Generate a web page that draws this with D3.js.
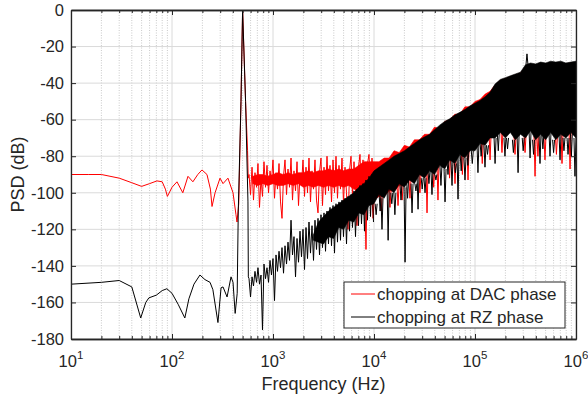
<!DOCTYPE html>
<html>
<head>
<meta charset="utf-8">
<script src="https://d3js.org/d3.v7.min.js"></script>
<style>
  body { margin: 0; background: #fff; }
  svg text { font-family: "Liberation Sans", Arial, sans-serif; fill: #262626; }
</style>
</head>
<body>
<svg width="588" height="400"></svg>
<script>
// ---- values (Hz, dB) ----
var redLow = [[10,-90],[15,-90],[20,-90],[30,-92],[40,-94.5],[50,-96.5],[60,-95],[71,-93.5],[80,-94],
  [86,-98],[90,-102],[100,-97],[112,-94],[128,-100],[144,-91],[161,-94],[180,-90],[198,-87.5],[222,-90],
  [240,-98],[249,-107.5],[267,-100],[299,-92],[320,-95],[358,-92],[402,-100],[430,-112],[440,-116],
  [458,-106],[482,-50],[500,0],[535,-50],[560,-77],[568,-92]];

var blackLow = [[10,-150],[20,-149],[30,-148],[40,-151.5],[49,-168.5],[55,-160],[59,-157.5],[70,-156],
  [80,-153.5],[89,-152.5],[100,-155],[115,-161],[134,-168.5],[147,-158],[165,-150],[189,-145],[212,-147.5],
  [238,-149],[254,-153],[285,-171],[306,-152],[320,-151.5],[351,-157],[384,-146],[402,-149],[422,-166],
  [442,-155],[453,-110],[482,-50],[500,0],[535,-50],[565,-105],[570,-146]];

// noisy stretch above the tone, one frequency list shared by both traces
var noiseF = [579,599,620,641,663,687,710,735,761,787,814,843,872,903,934,966,1000,1035,1071,1108,
  1147,1187,1228,1271,1315,1361,1408,1457,1508,1560,1614,1671,1729,1789,1851,1915,1982,2051,2122,2196,
  2272,2351,2433,2518,2605,2696,2790,2887,2987,3091,3199,3311,3425,3544,3668,3795,3927,4064,4205,4351,
  4502,4659,4822,4989,5163,5343,5528,5720,5920,6125,6339,6559,6787,7023,7267,7520,7782,8054,8332,8622,
  8923,9233,9555,9886];

var redNoise = [-90,-101,-86,-104,-89,-97,-84,-108,-92,-102,-83,-97,-85,-100,-88,-94,-82,-103,-89,-98,
  -84,-105,-114,-91,-82,-101,-87,-97,-81,-104,-88,-99,-83,-107,-90,-96,-82,-102,-86,-100,
  -81,-105,-88,-98,-82,-104,-111,-89,-81,-107,-86,-101,-80,-99,-85,-105,-82,-100,-80,-103,
  -85,-98,-81,-106,-86,-100,-120,-88,-80,-102,-83,-98,-118,-86,-79,-101,-82,-99,-131,-84,
  -79,-100,-81,-97];

var blackNoise = [-147,-157,-146,-151,-143,-149,-141,-150,-145,-175,-139,-147,-141,-149,-137,-145,-136,-159,-134,-143,
  -132,-141,-130,-144,-129,-139,-127,-137,-115,-134,-124,-146,-125,-138,-121,-135,-120,-142,-119,-136,
  -116,-133,-118,-137,-115,-131,-114,-134,-112,-130,-111,-132,-110,-128,-108,-129,-107,-133,-106,-127,
  -105,-126,-104,-124,-103,-128,-102,-121,-101,-119,-99,-124,-98,-118,-96,-117,-95,-121,-93,-115,
  -91,-113,-90,-116];

// dense region: upper and lower edges of the band
var bandF = [631,708,794,891,1000,1120,1260,1410,1580,1780,2000,2240,
  2510,2820,3160,3550,3980,4470,5010,5620,6310,7080,7940,8910,
  10000,11200,12600,14100,15800,17800,20000,22400,25100,28200,31600,35500,39800,44700,50100,56200,63100,70800,79400,89100,
  100000,112000,126000,141000,158000,178000,200000,224000,251000,282000,316000,355000,398000,447000,501000,562000,631000,708000,794000,891000,
  1000000];

var blackHi = [null,null,null,null,null,null,null,null,null,null,null,null,
  -123,-116,-113,-110,-108,-106,-104,-102,-100,-97,-95,-92,
  -88,-86,-84,-82,-80,-78.5,-77,-75,-73,-71,-69.5,-68,-65.5,-63,-61,-59.5,-57.5,-56,-54.5,-52.5,
  -51,-49.5,-47.5,-45,-40.5,-38,-37,-36,-35,-34,-30,-29,-29.5,-28.5,-29,-28,-28.5,-28,-29,-28.5,
  -28];
var blackLo = [null,null,null,null,null,null,null,null,null,null,null,null,
  -126,-127,-128,-124,-125,-119,-120,-115,-116,-111,-112,-107,
  -106,-101,-103,-98,-100,-95,-97,-93,-95,-90,-92,-88,-90,-85,-87,-82,-84,-79,-81,-77,
  -77,-73,-74,-70,-70,-67,-70,-67,-71,-68,-70,-66,-71,-68,-71,-67,-71,-68,-70,-67,
  -70];
var redHi = [-91,-90,-90,-91,-90,-89,-90,-89,-90,-89,-89,-88,
  -89,-88,-88,-87,-88,-87,-88,-87,-87,-85,-83,-83,
  -83,-83,-81,-81,-77,-78,-74,-75,-71,-71,-68,-68,-64,-65,-61,-60,-57,-57,-53,-53,
  -50,-49,-46,-44.5,-41,-38.5,-37.5,-36.5,-35.5,-34.5,-31,-30,-30,-29.5,-29.5,-29,-29,-29,-29.5,-29,
  -29];
var redLo = [-95,-96,-95,-96,-95,-96,-96,-95,-96,-95,-97,-96,
  -97,-96,-97,-96,-97,-96,-97,-96,-98,-99,-101,-99,
  -104,-102,-102,-99,-99,-96,-96,-93,-93,-90,-90,-87,-87,-84,-84,-81,-81,-78,-78,-76,
  -75,-72,-72,-68,-68,-66,-68,-66,-69,-67,-68,-65,-69,-67,-69,-66,-69,-67,-68,-66,
  -68];

// single deep (or tall) spikes poking out of the band
var blackSpikes = [[10500,-112],[11500,-110],[12000,-120],[13800,-126],[15000,-106],[16100,-112],[18500,-104],
  [20300,-138],[21500,-103],[23800,-111],[26000,-99],[27300,-109],[30000,-98],[32000,-100],[35000,-95],
  [37500,-101],[41000,-93],[46000,-96],[50500,-105],[54000,-90],[59200,-96],[64000,-89],[67900,-103.5],
  [73000,-88],[79600,-93],[85000,-85],[94000,-84],[107000,-89],[115000,-80],[125600,-86],[133000,-79],
  [158000,-84],[170000,-77],[198000,-80],[210000,-76],[240000,-78],[267000,-89],[300000,-77],[327000,-24],
  [351000,-81],[380000,-79],[440000,-84],[470000,-76],[553000,-80],[600000,-78],[695000,-82],[760000,-77],
  [834000,-79],[900000,-80],[977000,-91]];
var redSpikes = [[9800,-114],[11800,-110],[14400,-108],[17300,-107],[19000,-104],[22700,-103],[28500,-100],
  [33500,-111],[39000,-97],[43000,-104],[56000,-92],[63400,-95],[75000,-90],[85300,-93],[118000,-84],
  [141000,-82],[185000,-78],[249000,-79],[313000,-78],[393000,-91],[420000,-80],[493000,-82],[640000,-79],
  [727000,-84],[873000,-87]];

var xTicks = [10, 100, 1000, 10000, 100000, 1000000];
var yTicks = [-180, -160, -140, -120, -100, -80, -60, -40, -20, 0];
var legendLabels = ["chopping at DAC phase", "chopping at RZ phase"];
var colors = ["#ff0000", "#000000"];

// ---- layout ----
var svg = d3.select("svg");
var L = 71, R = 576, T = 10, B = 339;
var x = d3.scaleLog().domain([10, 1e6]).range([L, R]);
var y = d3.scaleLinear().domain([-180, 0]).range([B, T]);

var minor = [];
xTicks.slice(0, -1).forEach(function(d){
    for (var k = 2; k < 10; k++) minor.push(d * k);
});

svg.append("defs").append("clipPath").attr("id", "clip")
    .append("rect").attr("x", L).attr("y", T).attr("width", R - L).attr("height", B - T);

// grid
var grid = svg.append("g");
grid.selectAll("line.minor").data(minor).enter().append("line")
    .attr("x1", function(d){ return x(d); }).attr("x2", function(d){ return x(d); })
    .attr("y1", T).attr("y2", B)
    .attr("stroke", "#bdbdbd").attr("stroke-width", 0.8).attr("stroke-dasharray", "1,1.5");
grid.selectAll("line.mx").data(xTicks).enter().append("line")
    .attr("x1", function(d){ return x(d); }).attr("x2", function(d){ return x(d); })
    .attr("y1", T).attr("y2", B)
    .attr("stroke", "#dadada").attr("stroke-width", 1);
grid.selectAll("line.my").data(yTicks).enter().append("line")
    .attr("x1", L).attr("x2", R)
    .attr("y1", function(d){ return y(d); }).attr("y2", function(d){ return y(d); })
    .attr("stroke", "#dadada").attr("stroke-width", 1);

// data
var plot = svg.append("g").attr("clip-path", "url(#clip)");
var line = d3.line()
    .defined(function(d){ return d[1] != null; })
    .x(function(d){ return x(d[0]); })
    .y(function(d){ return y(d[1]); });
var area = d3.area()
    .defined(function(d){ return d[1] != null; })
    .x(function(d){ return x(d[0]); })
    .y0(function(d){ return y(d[1]); })
    .y1(function(d){ return y(d[2]); });

function band(hi, lo){
    return bandF.map(function(f, i){ return [f, hi[i], lo[i]]; });
}

function drawSpikes(list, hi, lo, color){
    plot.selectAll(null).data(list).enter().append("path")
        .attr("d", function(d){
            var i = d3.minIndex(bandF, function(b){ return Math.abs(Math.log(b / d[0])); });
            var base = d[1] < lo[i] ? lo[i] : hi[i];
            var xp = x(d[0]);
            return "M" + (xp - 1) + "," + y(base) + "L" + xp + "," + y(d[1]) + "L" + (xp + 1) + "," + y(base);
        })
        .attr("fill", "none").attr("stroke", color).attr("stroke-width", 1);
}

function drawSeries(low, noise, hi, lo, spikes, color){
    plot.append("path").datum(band(hi, lo))
        .attr("d", area).attr("fill", color).attr("stroke", color).attr("stroke-width", 0.6);
    drawSpikes(spikes, hi, lo, color);
    var pts = low.concat(noiseF.map(function(f, i){ return [f, noise[i]]; }));
    plot.append("path").datum(pts)
        .attr("d", line).attr("fill", "none").attr("stroke", color).attr("stroke-width", 1);
}

drawSeries(redLow, redNoise, redHi, redLo, redSpikes, colors[0]);
drawSeries(blackLow, blackNoise, blackHi, blackLo, blackSpikes, colors[1]);

// axes (MATLAB box style, ticks inward)
var axes = svg.append("g");
function styleAxis(g){
    g.selectAll("path, line").attr("stroke", "#262626");
    g.select(".domain").attr("stroke-width", 1.3);
}
axes.append("g").attr("transform", "translate(0," + B + ")")
    .call(d3.axisBottom(x).tickValues(minor).tickSize(-3).tickSizeOuter(0).tickFormat("")).call(styleAxis);
axes.append("g").attr("transform", "translate(0," + B + ")")
    .call(d3.axisBottom(x).tickValues(xTicks).tickSize(-5).tickSizeOuter(0).tickFormat("")).call(styleAxis);
axes.append("g").attr("transform", "translate(0," + T + ")")
    .call(d3.axisTop(x).tickValues(minor).tickSize(-3).tickSizeOuter(0).tickFormat("")).call(styleAxis);
axes.append("g").attr("transform", "translate(0," + T + ")")
    .call(d3.axisTop(x).tickValues(xTicks).tickSize(-5).tickSizeOuter(0).tickFormat("")).call(styleAxis);
axes.append("g").attr("transform", "translate(" + L + ",0)")
    .call(d3.axisLeft(y).tickValues(yTicks).tickSize(-5).tickSizeOuter(0).tickFormat("")).call(styleAxis);
axes.append("g").attr("transform", "translate(" + R + ",0)")
    .call(d3.axisRight(y).tickValues(yTicks).tickSize(-5).tickSizeOuter(0).tickFormat("")).call(styleAxis);

// tick labels
svg.append("g").selectAll("text").data(yTicks).enter().append("text")
    .attr("x", L - 7).attr("y", function(d){ return y(d); })
    .attr("dy", "0.35em").attr("text-anchor", "end").attr("font-size", 16.5)
    .text(function(d){ return String(d); });

var xl = svg.append("g").selectAll("text").data(xTicks).enter().append("text")
    .attr("x", function(d){ return x(d); }).attr("y", 367)
    .attr("text-anchor", "middle").attr("font-size", 16.5);
xl.append("tspan").text("10");
xl.append("tspan").attr("dy", -8).attr("font-size", 11.5)
    .text(function(d){ return Math.round(Math.log10(d)); });

// axis titles
svg.append("text").attr("x", (L + R) / 2).attr("y", 390)
    .attr("text-anchor", "middle").attr("font-size", 18).text("Frequency (Hz)");
svg.append("text").attr("transform", "translate(24," + ((T + B) / 2) + ") rotate(-90)")
    .attr("text-anchor", "middle").attr("font-size", 18).text("PSD (dB)");

// legend
var lg = svg.append("g").attr("transform", "translate(344,282)");
lg.append("rect").attr("width", 221).attr("height", 46)
    .attr("fill", "#fff").attr("stroke", "#262626").attr("stroke-width", 1);
var items = lg.selectAll("g").data(legendLabels).enter().append("g")
    .attr("transform", function(d, i){ return "translate(0," + (12 + i * 23) + ")"; });
items.append("line").attr("x1", 7).attr("x2", 31).attr("y1", 0).attr("y2", 0)
    .attr("stroke", function(d, i){ return colors[i]; }).attr("stroke-width", 1);
items.append("text").attr("x", 33).attr("y", 0).attr("dy", "0.35em")
    .attr("font-size", 17).text(function(d){ return d; });
</script>
</body>
</html>
